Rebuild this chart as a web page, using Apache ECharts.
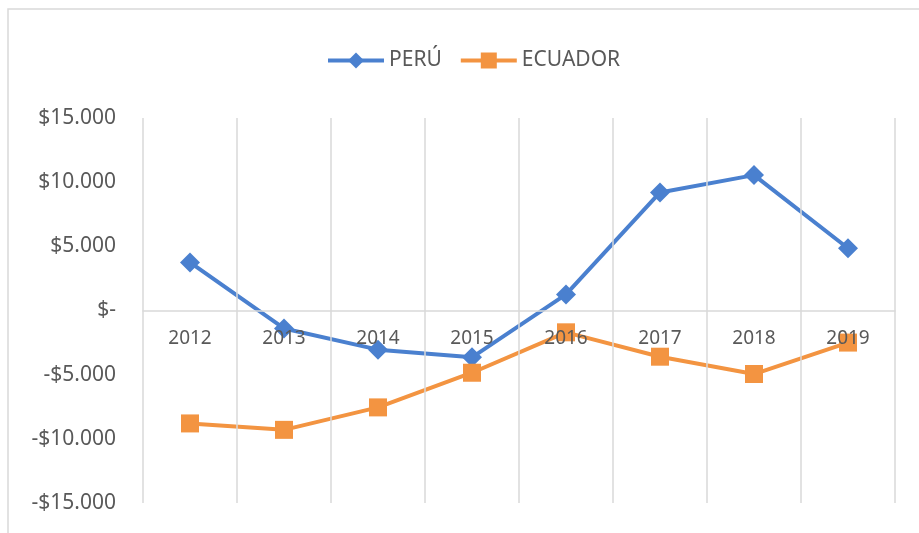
<!DOCTYPE html>
<html>
<head>
<meta charset="utf-8">
<script src="https://cdn.jsdelivr.net/npm/echarts@6/dist/echarts.min.js"></script>
<style>
  html, body { margin: 0; padding: 0; background: #fff; }
  #chart { width: 919px; height: 533px; }
</style>
</head>
<body>
<div id="chart"></div>
<script>
const years = ["2012", "2013", "2014", "2015", "2016", "2017", "2018", "2019"];
const peru = [3750, -1400, -3050, -3650, 1250, 9200, 10550, 4850];
const ecuador = [-8800, -9300, -7550, -4850, -1700, -3600, -4950, -2500];

const textColor = "#595959";
const gridColor = "#d9d9d9";
const fontFamily = "'Noto Sans', sans-serif";

function money(v) {
  if (v === 0) return "$-";
  const s = Math.abs(v).toLocaleString("de-DE");
  return (v < 0 ? "-$" : "$") + s;
}

const gridTop = 118;
const gridBottom = 30;
const plotH = 533 - gridTop - gridBottom;

const chart = echarts.init(document.getElementById("chart"), null, { renderer: "canvas" });

chart.setOption({
  animation: false,
  backgroundColor: "#fff",
  textStyle: { fontFamily: fontFamily },
  graphic: [
    {
      type: "polyline",
      shape: { points: [[8, 533], [8, 9], [919, 9]] },
      style: { stroke: "#d9d9d9", lineWidth: 1.5, fill: null },
      silent: true,
    },
  ],
  legend: {
    top: 45,
    left: 321,
    itemWidth: 56,
    itemHeight: 20,
    itemGap: 17,
    lineStyle: { width: 4 },
    textStyle: { color: textColor, fontSize: 21, fontFamily: fontFamily },
    data: ["PERÚ", "ECUADOR"],
  },
  grid: { left: 143, right: 24, top: gridTop, bottom: gridBottom, containLabel: false },
  xAxis: {
    type: "category",
    data: years,
    boundaryGap: true,
    position: "bottom",
    offset: -plotH / 2,
    z: 5,
    axisLine: { onZero: false, lineStyle: { color: gridColor, width: 1.5 } },
    axisTick: { show: false },
    axisLabel: { color: textColor, fontSize: 19, margin: 19 },
    splitLine: { show: true, lineStyle: { color: gridColor, width: 1.5 } },
  },
  yAxis: {
    type: "value",
    min: -15000,
    max: 15000,
    interval: 5000,
    axisLine: { show: false },
    axisTick: { show: false },
    splitLine: { show: false },
    axisLabel: { color: textColor, fontSize: 21, margin: 27, formatter: money },
  },
  series: [
    {
      name: "PERÚ",
      type: "line",
      data: peru,
      symbol: "diamond",
      symbolSize: 20,
      color: "#4a80cf",
      lineStyle: { width: 4 },
      z: 2,
    },
    {
      name: "ECUADOR",
      type: "line",
      data: ecuador,
      symbol: "rect",
      symbolSize: 18,
      color: "#f39441",
      lineStyle: { width: 4 },
      z: 2,
    },
  ],
});
</script>
</body>
</html>
